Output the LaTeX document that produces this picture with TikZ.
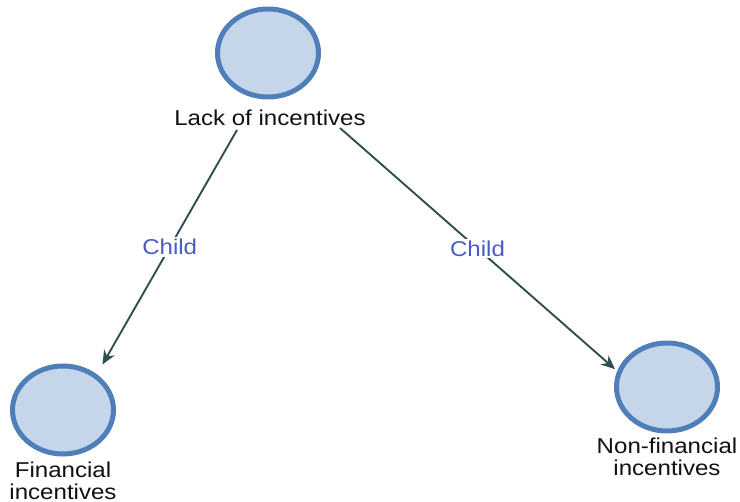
\documentclass[tikz,border=0pt]{standalone}
\usepackage{fontspec}
\setmainfont{Liberation Sans}[FakeStretch=1.12]
\usetikzlibrary{shapes.geometric,arrows.meta}
\definecolor{nodefill}{HTML}{C6D6EA}
\definecolor{nodeline}{HTML}{4E7FB8}
\definecolor{arrowcol}{HTML}{2F4F4F}
\definecolor{labelcol}{HTML}{4A5CC2}
\definecolor{textcol}{HTML}{111111}
\begin{document}
\begin{tikzpicture}[x=1pt,y=-1pt,
  circ/.style={ellipse,draw=nodeline,fill=nodefill,line width=5pt,minimum width=101pt,minimum height=88pt,inner sep=0pt},
  ntext/.style={text=textcol,font=\fontsize{21.5}{22}\selectfont,align=center,inner sep=1pt},
  edge/.style={draw=arrowcol,line width=1.9pt,-{Stealth[length=14pt,width=12pt]}},
  elabel/.style={text=labelcol,font=\fontsize{21.5}{22}\selectfont,fill=white,inner sep=2pt}]
\useasboundingbox (0,0) rectangle (740,502);
\node[circ] (top) at (268,53) {};
\node[circ] (fin) at (63,410) {};
\node[circ] (nf) at (667,387) {};
\node[ntext] (ltop) at (270,118) {Lack of incentives};
\node[ntext] (lfin) at (63,481) {Financial\\incentives};
\node[ntext] (lnf) at (667,457) {Non-financial\\incentives};
\coordinate (s1) at (237,130);
\coordinate (s2) at (340,128);
\draw[edge] (s1) -- node[elabel] (c1) {Child} ([shift={(8pt,8pt)}]fin.50);
\draw[edge] (s2) -- node[elabel] (c2) {Child} ([shift={(-3pt,0pt)}]nf.160);
\end{tikzpicture}
\end{document}
